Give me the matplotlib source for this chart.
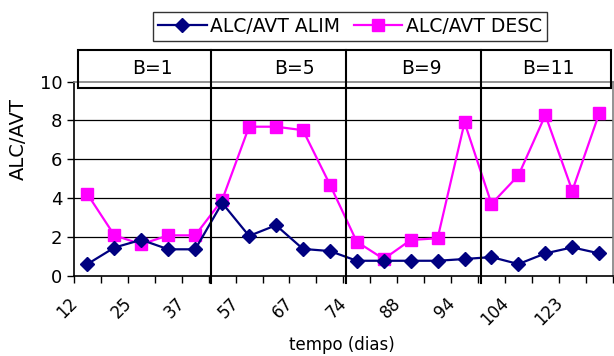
import matplotlib
matplotlib.use("Agg")
import matplotlib.pyplot as plt
import numpy as np
from matplotlib.patches import Rectangle
from matplotlib.transforms import ScaledTranslation

# ---- data ----
tick_labels = ["12", "25", "37", "57", "67", "74", "88", "94", "104", "123"]
alim = [0.6, 1.45, 1.85, 1.36, 1.36, 3.75, 2.05, 2.6, 1.38, 1.27,
        0.77, 0.77, 0.77, 0.77, 0.86, 0.96, 0.6, 1.15, 1.46, 1.15]
desc = [4.2, 2.08, 1.62, 2.08, 2.08, 3.9, 7.68, 7.68, 7.5, 4.7,
        1.75, 0.86, 1.84, 1.93, 7.9, 3.7, 5.17, 8.28, 4.38, 8.37]
groups = ["B=1", "B=5", "B=9", "B=11"]
group_sizes = [5, 5, 5, 5]

plt.rcParams['font.family'] = ['DejaVu Sans']

W, H = 614, 356
fig = plt.figure(figsize=(W / 100, H / 100), dpi=100)
ax_l, ax_r, ax_t, ax_b = 74, 612.7, 81.7, 275.7
ax = fig.add_axes([ax_l / W, 1 - ax_b / H, (ax_r - ax_l) / W, (ax_b - ax_t) / H])

n = len(alim)
x = np.arange(n)
navy = "#000080"
mag = "#FF00FF"

ax.plot(x, desc, color=mag, lw=1.6, marker='s', ms=8.5, mfc=mag, mec=mag,
        label="ALC/AVT DESC", zorder=4)
ax.plot(x, alim, color=navy, lw=1.6, marker='D', ms=7, mfc=navy, mec=navy,
        label="ALC/AVT ALIM", zorder=5)

ax.set_yticks([0, 2, 4, 6, 8, 10])
ax.tick_params(axis='y', direction='out', length=5, width=1, pad=3.5,
               labelsize=13, colors='black')
for v in [2, 4, 6, 8]:
    ax.axhline(v, color='black', lw=0.9, zorder=1)

# x ticks at category boundaries, labels every second category
ax.set_xticks(np.arange(-0.5, n, 1.0))
ax.set_xticklabels([])
ax.tick_params(axis='x', which='major', direction='out', length=5, width=1)
ax.set_xticks(np.arange(0, n, 2), tick_labels, minor=True)
ax.tick_params(axis='x', which='minor', length=0, pad=13, labelsize=12)
ax.set_xlim(-0.5, n - 0.5)
ax.set_ylim(0, 10)
shift = ScaledTranslation(-0.19, 0, fig.dpi_scale_trans)
for lab in ax.get_xticklabels(minor=True):
    lab.set_rotation(45)
    lab.set_ha('right')
    lab.set_va('top')
    lab.set_rotation_mode('anchor')
    lab.set_transform(lab.get_transform() + shift)

for s in ['left', 'bottom']:
    ax.spines[s].set_color('black')
    ax.spines[s].set_linewidth(1.2)
for s in ['top', 'right']:
    ax.spines[s].set_color('#808080')
    ax.spines[s].set_linewidth(1.2)

ax_h = (ax_b - ax_t)
ax.set_ylabel("ALC/AVT", fontsize=14)
ax.yaxis.set_label_coords(-0.085, (ax_b - 139) / ax_h)
ax.set_xlabel("tempo (dias)", fontsize=12)
ax.xaxis.set_label_coords(0.4975, (ax_b - 336) / ax_h)

# group separators and header
hdr_l, hdr_r, hdr_t, hdr_b = 78, 611, 50, 88
bounds = np.cumsum(group_sizes)[:-1] - 0.5 + 0.1
ymax_ax = (ax_b - hdr_t) / ax_h
for b in bounds:
    ax.axvline(b, ymin=-0.04, ymax=ymax_ax, color='black', lw=1.5,
               clip_on=False, zorder=6)
fig.patches.append(Rectangle((hdr_l / W, 1 - hdr_b / H), (hdr_r - hdr_l) / W,
                             (hdr_b - hdr_t) / H, transform=fig.transFigure,
                             fill=False, edgecolor='black', lw=1.5))
label_nudge = [0.4, 0.7, 0.4, 0.1]
starts = np.concatenate([[0], np.cumsum(group_sizes)[:-1]])
for g, st, sz, dx in zip(groups, starts, group_sizes, label_nudge):
    cx = st + (sz - 1) / 2 + dx
    ax.text(cx, (ax_b - 68) / ax_h, g, transform=ax.get_xaxis_transform(),
            fontsize=13.5, ha='center', va='center')

h, l = ax.get_legend_handles_labels()
leg = fig.legend(h[::-1], l[::-1], loc='center', ncol=2,
                 bbox_to_anchor=(350 / W, 1 - 26.5 / H), fontsize=13.5,
                 frameon=True, fancybox=False, edgecolor='black',
                 handlelength=2.6, columnspacing=0.7, handletextpad=0.2,
                 borderpad=0.25, borderaxespad=0)
leg.get_frame().set_linewidth(1.0)

fig.savefig("out.png", dpi=100)
